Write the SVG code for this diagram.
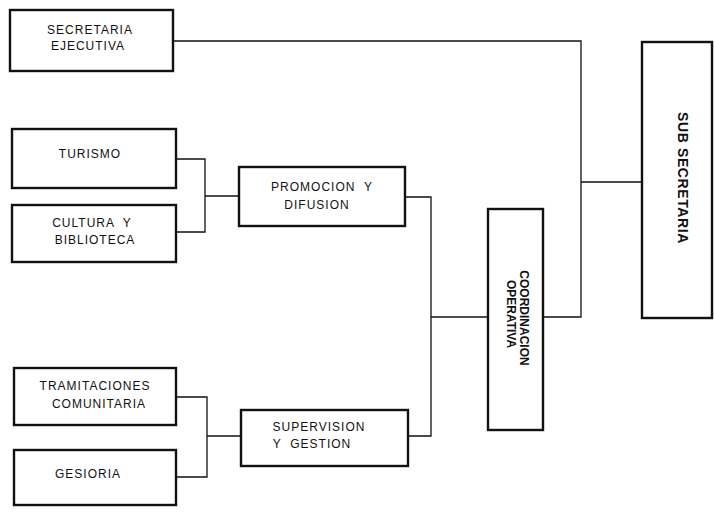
<svg xmlns="http://www.w3.org/2000/svg" width="714" height="512" viewBox="0 0 714 512">
<style>
.box{fill:#fff;stroke:#111;stroke-width:2.4}
.lbl{font-family:"Liberation Sans",Arial,sans-serif;font-size:12px;letter-spacing:1px;fill:#111;text-anchor:middle;white-space:pre}
.vl{font-family:"Liberation Sans",Arial,sans-serif;font-weight:bold;fill:#111;text-anchor:middle}
.conn{fill:none;stroke:#111;stroke-width:1.3}
</style>
<rect width="714" height="512" fill="#fff"/>
<g id="connectors" class="conn">
<polyline points="173,41 581,41 581,317 543,317"/>
<line x1="581" y1="182" x2="642" y2="182"/>
<polyline points="176,159 205,159 205,232 176,232"/>
<line x1="205" y1="196" x2="239" y2="196"/>
<polyline points="176,397 207,397 207,477 176,477"/>
<line x1="207" y1="436" x2="241" y2="436"/>
<polyline points="405,197 431,197 431,436 408,436"/>
<line x1="431" y1="317" x2="488" y2="317"/>
</g>
<g id="secretaria-ejecutiva">
<rect class="box" x="10" y="10" width="163" height="61"/>
<text class="lbl" x="90" y="34">SECRETARIA</text>
<text class="lbl" x="88" y="50">EJECUTIVA</text>
</g>
<g id="turismo">
<rect class="box" x="12" y="129" width="164" height="59"/>
<text class="lbl" x="90" y="158">TURISMO</text>
</g>
<g id="cultura-biblioteca">
<rect class="box" x="12" y="205" width="164" height="57"/>
<text class="lbl" x="92" y="227">CULTURA  Y</text>
<text class="lbl" x="95" y="244">BIBLIOTECA</text>
</g>
<g id="promocion-difusion">
<rect class="box" x="239" y="167" width="166" height="59"/>
<text class="lbl" x="322" y="191">PROMOCION  Y</text>
<text class="lbl" x="317" y="209">DIFUSION</text>
</g>
<g id="tramitaciones">
<rect class="box" x="14" y="368" width="162" height="57"/>
<text class="lbl" x="95" y="390">TRAMITACIONES</text>
<text class="lbl" x="99" y="408">COMUNITARIA</text>
</g>
<g id="gesioria">
<rect class="box" x="14" y="450" width="162" height="55"/>
<text class="lbl" x="88" y="478">GESIORIA</text>
</g>
<g id="supervision-gestion">
<rect class="box" x="241" y="410" width="167" height="56"/>
<text class="lbl" x="319" y="431">SUPERVISION</text>
<text class="lbl" x="312" y="448">Y  GESTION</text>
</g>
<g id="coordinacion-operativa">
<rect class="box" x="488" y="209" width="55" height="221"/>
<text class="vl" font-size="12" transform="translate(520,318) rotate(90)" x="0" y="0">COORDINACION</text>
<text class="vl" font-size="12" transform="translate(507,314) rotate(90)" x="0" y="0">OPERATIVA</text>
</g>
<g id="sub-secretaria">
<rect class="box" x="642" y="42" width="70" height="276"/>
<text class="vl" font-size="14" letter-spacing="0.6" transform="translate(678,178) rotate(90)" x="0" y="0">SUB SECRETARIA</text>
</g>
</svg>
